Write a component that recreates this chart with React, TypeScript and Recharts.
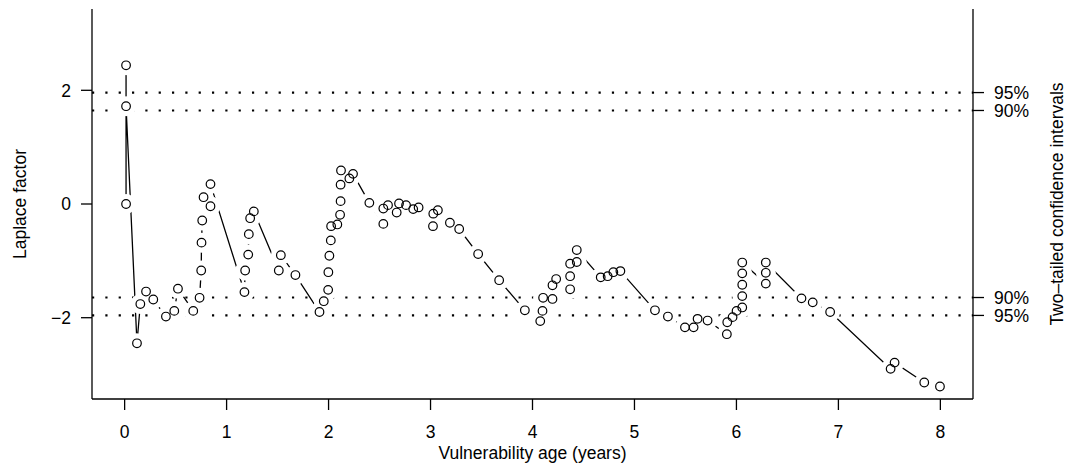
import React from 'react';
import { ComposedChart, Line, XAxis, YAxis } from 'recharts';

// Vulnerability age (years) and Laplace factor, in observation order
const ages = [
  0.014, 0.014, 0.014, 0.121, 0.154, 0.21, 0.281, 0.405, 0.487, 0.523,
  0.673, 0.735, 0.751, 0.754, 0.761, 0.774, 0.842, 0.842, 1.175, 1.182,
  1.212, 1.218, 1.231, 1.267, 1.512, 1.532, 1.675, 1.911, 1.953, 1.996,
  1.998, 2.008, 2.022, 2.025, 2.086, 2.113, 2.118, 2.118, 2.122, 2.204,
  2.24, 2.4, 2.537, 2.537, 2.583, 2.668, 2.691, 2.76, 2.83, 2.883,
  3.024, 3.027, 3.072, 3.19, 3.281, 3.467, 3.673, 3.925, 4.076, 4.098,
  4.104, 4.196, 4.196, 4.232, 4.369, 4.369, 4.369, 4.434, 4.434, 4.669,
  4.737, 4.793, 4.862, 5.201, 5.328, 5.495, 5.58, 5.619, 5.717, 5.906,
  5.91, 5.962, 6.001, 6.057, 6.057, 6.057, 6.057, 6.057, 6.288, 6.288,
  6.288, 6.638, 6.748, 6.919, 7.512, 7.551, 7.842, 7.996,
];
const laplace = [
  0.0, 2.44, 1.72, -2.45, -1.76, -1.54, -1.68, -1.98, -1.88, -1.49,
  -1.88, -1.65, -1.17, -0.68, -0.29, 0.12, -0.04, 0.35, -1.55, -1.17,
  -0.89, -0.53, -0.25, -0.13, -1.17, -0.9, -1.25, -1.9, -1.71, -1.51,
  -1.2, -0.91, -0.64, -0.39, -0.36, -0.19, 0.05, 0.34, 0.59, 0.45,
  0.53, 0.02, -0.35, -0.08, -0.02, -0.15, 0.01, -0.02, -0.09, -0.06,
  -0.39, -0.17, -0.11, -0.33, -0.44, -0.88, -1.34, -1.87, -2.06, -1.88,
  -1.65, -1.67, -1.43, -1.32, -1.5, -1.27, -1.05, -1.02, -0.81, -1.29,
  -1.27, -1.2, -1.18, -1.87, -1.98, -2.17, -2.17, -2.02, -2.05, -2.29,
  -2.08, -1.99, -1.88, -1.82, -1.62, -1.42, -1.22, -1.03, -1.4, -1.21,
  -1.03, -1.66, -1.73, -1.9, -2.9, -2.79, -3.14, -3.21,
];

const xTicks = [0, 1, 2, 3, 4, 5, 6, 7, 8];
const yTicks = [-2, 0, 2];
const ciValues = [1.96, 1.645, -1.645, -1.96];
const ciLabels = ['95%', '90%', '90%', '95%'];

const X_DOMAIN: [number, number] = [-0.32, 8.32];
const Y_DOMAIN: [number, number] = [-3.43, 3.43];

const data = ages.map((a, i) => ({ age: a, lf: laplace[i] }));
const ciLines = ciValues.map((v) => [
  { age: X_DOMAIN[0], ci: v },
  { age: X_DOMAIN[1], ci: v },
]);

const FONT = '"Liberation Sans", Arial, Helvetica, sans-serif';
const FS = 17.5;

const GapDot = (props: any) => {
  const { cx, cy, index } = props;
  if (cx == null || cy == null) return <g key={`g${index}`} />;
  return <circle key={`g${index}`} cx={cx} cy={cy} r={10} fill="#fff" stroke="none" />;
};

const OpenDot = (props: any) => {
  const { cx, cy, index } = props;
  if (cx == null || cy == null) return <g key={`o${index}`} />;
  return (
    <circle key={`o${index}`} cx={cx} cy={cy} r={4.3} fill="none" stroke="#000" strokeWidth={1.2} />
  );
};

const fmtMinus = (v: number) => String(v).replace('-', '\u2212');
const fmtCi = (v: number) => {
  const i = ciValues.findIndex((c) => Math.abs(c - v) < 1e-6);
  return i >= 0 ? ciLabels[i] : '';
};

export default function App() {
  return (
    <div style={{ position: 'absolute', left: 0, top: 0, background: '#fff' }}>
      <ComposedChart
        width={1069}
        height={464}
        margin={{ top: 9, right: 0, bottom: 0, left: 0 }}
        style={{ fontFamily: FONT }}
      >
        <XAxis
          xAxisId="bottom"
          dataKey="age"
          type="number"
          domain={X_DOMAIN}
          allowDataOverflow
          ticks={xTicks}
          interval={0}
          height={65}
          axisLine={{ stroke: '#000', strokeWidth: 1.3 }}
          tickLine={{ stroke: '#000', strokeWidth: 1.3 }}
          tickSize={11}
          tickMargin={16}
          tick={{ fill: '#000', fontSize: FS, fontFamily: FONT }}
          label={({ viewBox }: any) => (
            <text
              x={viewBox.x + viewBox.width / 2}
              y={viewBox.y + 60}
              textAnchor="middle"
              fontSize={FS}
              fontFamily={FONT}
              fill="#000"
            >
              Vulnerability age (years)
            </text>
          )}
        />
        <XAxis
          xAxisId="top"
          dataKey="age"
          type="number"
          orientation="top"
          domain={X_DOMAIN}
          allowDataOverflow
          height={0}
          tick={false}
          tickLine={false}
          axisLine={{ stroke: '#000', strokeWidth: 1.3 }}
        />
        <YAxis
          yAxisId="left"
          type="number"
          domain={Y_DOMAIN}
          allowDataOverflow
          ticks={yTicks}
          interval={0}
          width={92}
          axisLine={{ stroke: '#000', strokeWidth: 1.3 }}
          tickLine={{ stroke: '#000', strokeWidth: 1.3 }}
          tickSize={11}
          tickMargin={10}
          tickFormatter={fmtMinus}
          tick={{ fill: '#000', fontSize: FS, fontFamily: FONT }}
          label={() => (
            <text
              x={25.5}
              y={204}
              transform="rotate(-90 25.5 204)"
              textAnchor="middle"
              fontSize={FS}
              fontFamily={FONT}
              fill="#000"
            >
              Laplace factor
            </text>
          )}
        />
        <YAxis
          yAxisId="right"
          type="number"
          orientation="right"
          domain={Y_DOMAIN}
          allowDataOverflow
          ticks={ciValues}
          interval={0}
          width={96}
          axisLine={{ stroke: '#000', strokeWidth: 1.3 }}
          tickLine={{ stroke: '#000', strokeWidth: 1.3 }}
          tickSize={11}
          tickMargin={10}
          tickFormatter={fmtCi}
          tick={{ fill: '#000', fontSize: FS, fontFamily: FONT }}
          label={() => (
            <text
              x={1063}
              y={204}
              transform="rotate(-90 1063 204)"
              textAnchor="middle"
              fontSize={FS}
              fontFamily={FONT}
              fill="#000"
            >
              Two–tailed confidence intervals
            </text>
          )}
        />
        <Line
          data={data}
          xAxisId="bottom"
          yAxisId="left"
          dataKey="lf"
          type="linear"
          stroke="#000"
          strokeWidth={1.3}
          dot={GapDot}
          activeDot={false}
          isAnimationActive={false}
        />
        {ciLines.map((d, i) => (
          <Line
            key={`ci${i}`}
            data={d}
            xAxisId="top"
            yAxisId="right"
            dataKey="ci"
            type="linear"
            stroke="#000"
            strokeWidth={2.2}
            strokeDasharray="2.2 11.13"
            dot={false}
            activeDot={false}
            isAnimationActive={false}
          />
        ))}
        <Line
          data={data}
          xAxisId="bottom"
          yAxisId="left"
          dataKey="lf"
          type="linear"
          stroke="none"
          dot={OpenDot}
          activeDot={false}
          isAnimationActive={false}
        />
      </ComposedChart>
    </div>
  );
}
